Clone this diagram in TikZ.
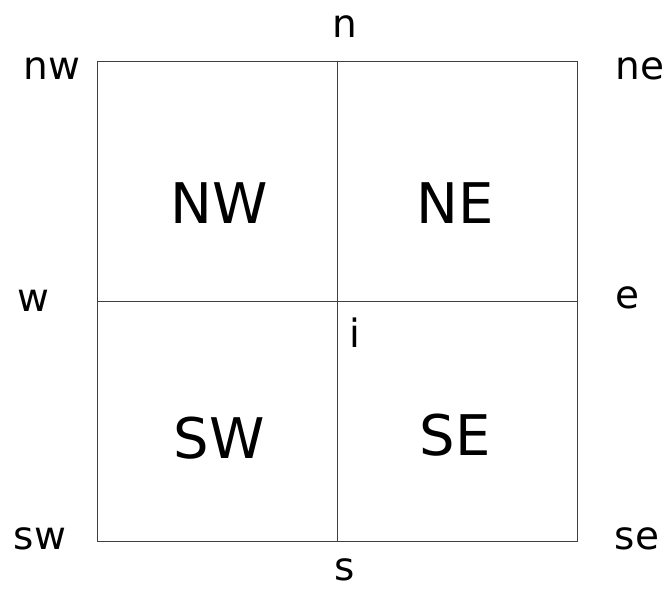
\documentclass[tikz,border=0pt]{standalone}
\usepackage{fontspec}
\setmainfont{DejaVu Sans}
\begin{document}
\begin{tikzpicture}[x=1pt,y=-1pt,
  frame/.style={draw=black!75,line width=1pt},
  small/.style={inner sep=0pt,font=\fontsize{39}{40}\selectfont},
  big/.style={inner sep=0pt,font=\fontsize{56}{58}\selectfont}]
\useasboundingbox (0,0) rectangle (672,590);
\node[frame,minimum size=480pt,inner sep=0pt] (box) at (337,301) {};
\draw[frame] (box.north) -- (box.south);
\draw[frame] (box.west) -- (box.east);
\node[small] (ln) at (345,27) {n};
\node[small] (lnw) at (52,69) {nw};
\node[small] (lne) at (640,69) {ne};
\node[small] (lw) at (33,301) {w};
\node[small] (le) at (627,298) {e};
\node[small] (li) at (355,333) {i};
\node[small] (lsw) at (40,539) {sw};
\node[small] (lse) at (637,539) {se};
\node[small] (ls) at (345,570) {s};
\node[big] (lNW) at (219,203) {NW};
\node[big] (lNE) at (455,203) {NE};
\node[big] (lSW) at (219,438) {SW};
\node[big] (lSE) at (455,435) {SE};
\end{tikzpicture}
\end{document}
